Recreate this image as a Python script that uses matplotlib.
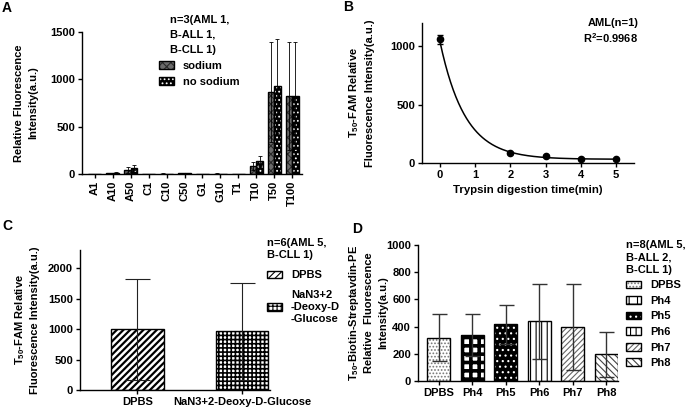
import numpy as np
import matplotlib
matplotlib.use('Agg')
import matplotlib.pyplot as plt
from matplotlib.patches import Patch

# text style (Prism-like bold Arial)
plt.rcParams['font.family'] = ['Liberation Sans', 'DejaVu Sans']
plt.rcParams['font.weight'] = 'bold'
plt.rcParams['axes.labelweight'] = 'bold'
plt.rcParams['font.size'] = 8
plt.rcParams['axes.linewidth'] = 1.0
plt.rcParams['hatch.linewidth'] = 0.8
plt.rcParams['mathtext.fontset'] = 'custom'
plt.rcParams['mathtext.rm'] = 'Liberation Sans:bold'
plt.rcParams['mathtext.it'] = 'Liberation Sans:bold'
plt.rcParams['mathtext.bf'] = 'Liberation Sans:bold'
plt.rcParams['mathtext.default'] = 'rm'

FS = 8

# panel A data
cats_a = ['A1', 'A10', 'A50', 'C1', 'C10', 'C50', 'G1', 'G10', 'T1', 'T10', 'T50', 'T100']
sodium = [3, 10, 42, 2, 4, 8, 2, 4, 2, 85, 865, 820]
sodium_sd = [1, 3, 36, 1, 2, 3, 1, 2, 1, 39, 525, 570]
no_sodium = [3, 12, 67, 2, 3, 6, 2, 2, 2, 138, 932, 829]
no_sodium_sd = [1, 4, 28, 1, 2, 3, 1, 1, 1, 52, 494, 565]

# panel B data
trypsin_time = [0, 2, 3, 4, 5]
trypsin_mean = [1060, 85, 60, 35, 30]
trypsin_sd = [40, 8, 6, 5, 5]
# one phase decay fit shown on the chart
fit_y0 = 1040
fit_plateau = 32
fit_k = 1.40

# panel C data
cats_c = ['DPBS', 'NaN3+2-Deoxy-D-Glucose']
legend_c = ['DPBS', 'NaN3+2\n-Deoxy-D\n-Glucose']
mean_c = [1000, 965]
sd_c = [830, 797]

# panel D data
cats_d = ['DPBS', 'Ph4', 'Ph5', 'Ph6', 'Ph7', 'Ph8']
mean_d = [318, 338, 418, 438, 396, 196]
sd_d = [172, 155, 143, 277, 318, 167]

W, H = 685, 407
fig = plt.figure(figsize=(W / 100, H / 100), dpi=100)


def px_axes(left, top, right, bottom):
    ax = fig.add_axes([left / W, 1 - bottom / H, (right - left) / W, (bottom - top) / H])
    ax.spines['top'].set_visible(False)
    ax.spines['right'].set_visible(False)
    ax.tick_params(length=3, width=1, labelsize=FS, pad=2)
    return ax


def hatched_bar(ax, x, h, w, face, hcol, hatch):
    # fill + hatch first, then a black outline on top
    ax.bar(x, h, w, color=face, edgecolor=hcol, hatch=hatch, linewidth=0, zorder=2)
    ax.bar(x, h, w, fill=False, edgecolor='black', linewidth=1.0, zorder=3)
    return (Patch(facecolor=face, edgecolor=hcol, hatch=hatch, linewidth=0),
            Patch(fill=False, edgecolor='black', linewidth=1.0))


def fig_legend(handles, labels, title, x, y, align, spacing, title_ls):
    leg = fig.legend(handles=handles, labels=labels, title=title, loc='upper left',
                     bbox_to_anchor=(x / W, 1 - y / H), bbox_transform=fig.transFigure,
                     frameon=False, borderpad=0, borderaxespad=0, handlelength=1.35,
                     handleheight=0.7, handletextpad=0.8, labelspacing=spacing,
                     alignment=align, fontsize=FS,
                     title_fontproperties={'weight': 'bold', 'size': FS})
    leg.get_title().set_linespacing(title_ls)
    return leg


def ylabel(ax, text, xpos):
    ax.set_ylabel(text, fontsize=FS, linespacing=1.45)
    ax.yaxis.set_label_coords(xpos, 0.5)


# ---------------- A ----------------
ax = px_axes(82, 32, 302, 174)
xa = np.arange(len(cats_a))
bw = 0.36
h1 = hatched_bar(ax, xa - bw / 2, sodium, bw, '#6a6a6a', '#2a2a2a', 'xxxx')
h2 = hatched_bar(ax, xa + bw / 2, no_sodium, bw, 'black', 'white', '....')
ax.errorbar(xa - bw / 2, sodium, yerr=sodium_sd, fmt='none', ecolor='black',
            elinewidth=0.6, capsize=1.2, capthick=0.6, zorder=4)
ax.errorbar(xa + bw / 2, no_sodium, yerr=no_sodium_sd, fmt='none', ecolor='black',
            elinewidth=0.6, capsize=1.2, capthick=0.6, zorder=4)
ax.set_xlim(-0.72, 11.55)
ax.set_ylim(0, 1500)
ax.set_yticks([0, 500, 1000, 1500])
ax.set_xticks(xa)
ax.set_xticklabels(cats_a, rotation=90)
ylabel(ax, 'Relative Fluorescence\nIntensity(a.u.)', -0.2)
fig_legend([h1, h2], ['sodium', 'no sodium'], 'n=3(AML 1,\nB-ALL 1,\nB-CLL 1)',
           159, 15, 'center', 0.55, 1.6)

# ---------------- B ----------------
ax = px_axes(422, 23, 634, 163)
tt = np.linspace(0, 5, 200)
ax.plot(tt, fit_plateau + (fit_y0 - fit_plateau) * np.exp(-fit_k * tt), color='black', lw=1.1)
ax.errorbar(trypsin_time, trypsin_mean, yerr=trypsin_sd, fmt='o', color='black',
            markersize=4.5, elinewidth=1, capsize=2.2, capthick=1)
ax.set_xlim(-0.51, 5.51)
ax.set_ylim(0, 1200)
ax.set_xticks([0, 1, 2, 3, 4, 5])
ax.set_yticks([0, 500, 1000])
ax.set_xlabel('Trypsin digestion time(min)', fontsize=8.2)
ylabel(ax, 'T$_{50}$-FAM Relative\nFluorescence Intensity(a.u.)', -0.222)
ax.text(1.02, 1.0, 'AML(n=1)', transform=ax.transAxes, ha='right', va='center', fontsize=FS)
ax.text(1.02, 0.895, 'R$^2$=0.9968', transform=ax.transAxes, ha='right', va='center', fontsize=FS)

# ---------------- C ----------------
ax = px_axes(80, 250, 270, 390)
xc = np.arange(len(cats_c))
with plt.rc_context({'hatch.linewidth': 1.6}):
    c1 = hatched_bar(ax, xc[0], mean_c[0], 0.5, 'white', 'black', '/////')
with plt.rc_context({'hatch.linewidth': 1.2}):
    c2 = hatched_bar(ax, xc[1], mean_c[1], 0.5, 'white', 'black', '++++')
ax.errorbar(xc, mean_c, yerr=sd_c, fmt='none', ecolor='#222222', elinewidth=0.8,
            capsize=9, capthick=0.8, zorder=4)
ax.set_xlim(-0.55, 1.27)
ax.set_ylim(0, 2300)
ax.set_yticks([0, 500, 1000, 1500, 2000])
ax.set_xticks(xc)
ax.set_xticklabels(cats_c)
ylabel(ax, 'T$_{50}$-FAM Relative\nFluorescence Intensity(a.u.)', -0.21)
fig_legend([c1, c2], legend_c, 'n=6(AML 5,\nB-CLL 1)', 267, 238, 'left', 0.9, 1.3)

# ---------------- D ----------------
ax = px_axes(418, 245, 618, 381)
xd = np.arange(len(cats_d))
styles_d = [('white', '#777777', '.....', 0.8),
            ('white', 'black', '++', 2.6),
            ('black', 'white', '...', 0.8),
            ('white', 'black', '|||', 0.8),
            ('white', '#666666', '//////', 0.8),
            ('white', '#444444', '\\\\\\\\\\', 0.8)]
handles_d = []
for i, (face, hcol, hatch, hlw) in enumerate(styles_d):
    with plt.rc_context({'hatch.linewidth': hlw}):
        handles_d.append(hatched_bar(ax, xd[i], mean_d[i], 0.68, face, hcol, hatch))
ax.errorbar(xd, mean_d, yerr=sd_d, fmt='none', ecolor='#333333', elinewidth=1,
            capsize=5.4, capthick=1, zorder=4)
ax.set_xlim(-0.62, 5.35)
ax.set_ylim(0, 1000)
ax.set_yticks([0, 200, 400, 600, 800, 1000])
ax.set_xticks(xd)
ax.set_xticklabels(cats_d)
ylabel(ax, 'T$_{50}$-Biotin-Streptavdin-PE\nRelative  Fluorescence\nIntensity(a.u.)', -0.15)
fig_legend(handles_d, cats_d, 'n=8(AML 5,\nB-ALL 2,\nB-CLL 1)', 626, 240, 'left', 0.5, 1.3)

# panel letters
for letter, x, y in [('A', 2, 1), ('B', 343, 0), ('C', 2, 219), ('D', 352, 222)]:
    fig.text(x / W, 1 - y / H, letter, fontsize=10, fontweight='bold', ha='left', va='top')

fig.savefig('out.png', dpi=100)
